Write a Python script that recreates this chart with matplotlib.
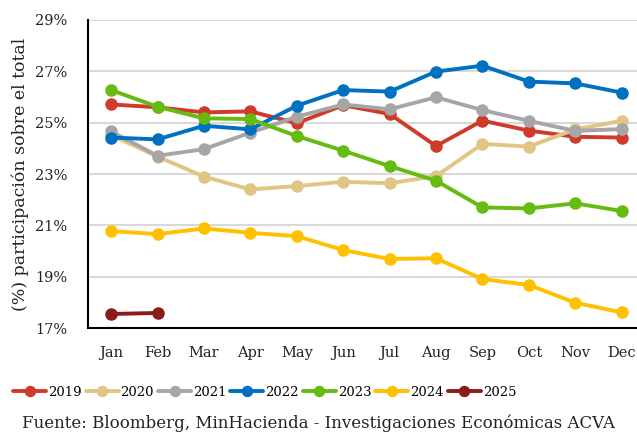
import numpy as np
import matplotlib
matplotlib.use("Agg")
import matplotlib.pyplot as plt

# Datos (% participación sobre el total)
months = ["Jan", "Feb", "Mar", "Apr", "May", "Jun", "Jul", "Aug", "Sep", "Oct", "Nov", "Dec"]
years = ["2019", "2020", "2021", "2022", "2023", "2024", "2025"]
s2019 = [25.71, 25.60, 25.40, 25.44, 24.98, 25.68, 25.34, 24.09, 25.08, 24.69, 24.45, 24.42]
s2020 = [24.52, 23.68, 22.90, 22.40, 22.53, 22.70, 22.64, 22.92, 24.17, 24.07, 24.74, 25.07]
s2021 = [24.66, 23.71, 23.97, 24.61, 25.23, 25.71, 25.52, 25.99, 25.49, 25.07, 24.68, 24.75]
s2022 = [24.42, 24.35, 24.88, 24.74, 25.66, 26.27, 26.21, 26.99, 27.22, 26.60, 26.53, 26.17]
s2023 = [26.27, 25.62, 25.17, 25.14, 24.48, 23.91, 23.31, 22.74, 21.70, 21.66, 21.86, 21.56]
s2024 = [20.78, 20.66, 20.88, 20.71, 20.58, 20.04, 19.69, 19.72, 18.91, 18.68, 17.99, 17.61]
s2025 = [17.55, 17.59]
series = [s2019, s2020, s2021, s2022, s2023, s2024, s2025]
colors = ["#d03a2b", "#e0c584", "#a6a6a6", "#0070c0", "#66bb11", "#ffc000", "#8b1c1c"]

yticks = [17, 19, 21, 23, 25, 27, 29]

plt.rcParams["font.family"] = ["DejaVu Serif"]

fig = plt.figure(figsize=(6.37, 4.34), dpi=100)
ax = fig.add_axes([0.138, 0.244, 0.862, 0.71])

for name, vals, c in zip(years, series, colors):
    x = np.arange(len(vals))
    ax.plot(x, vals, color=c, linewidth=2.8, marker="o", markersize=8,
            label=name, solid_capstyle="round")

ax.set_xlim(-0.5, 11.33)
ax.set_ylim(17, 29)
ax.set_yticks(yticks)
ax.set_yticklabels([f"{v}%" for v in yticks])
ax.set_xticks(range(12))
ax.set_xticklabels(months)
ax.tick_params(axis="both", length=0, labelsize=10.5, colors="#222222")
ax.tick_params(axis="y", pad=15)
ax.tick_params(axis="x", pad=13)

ax.grid(True, axis="y", color="#d9d9d9", linewidth=1.5)
ax.set_axisbelow(True)
for side in ["top", "right"]:
    ax.spines[side].set_visible(False)
ax.spines["left"].set_linewidth(1.5)
ax.spines["bottom"].set_linewidth(1.5)

ax.set_ylabel("(%) participación sobre el total", fontsize=12.5, labelpad=4, color="#222222")

ax.legend(loc="center", bbox_to_anchor=(0.322, -0.208), ncol=7, frameon=False,
          fontsize=9.5, handlelength=2.5, handletextpad=0.15, columnspacing=0.3,
          markerscale=0.9)

fig.text(0.5, 0.025, "Fuente: Bloomberg, MinHacienda - Investigaciones Económicas ACVA",
         ha="center", va="center", fontsize=12, color="#222222")

fig.savefig("out.png", dpi=100)
